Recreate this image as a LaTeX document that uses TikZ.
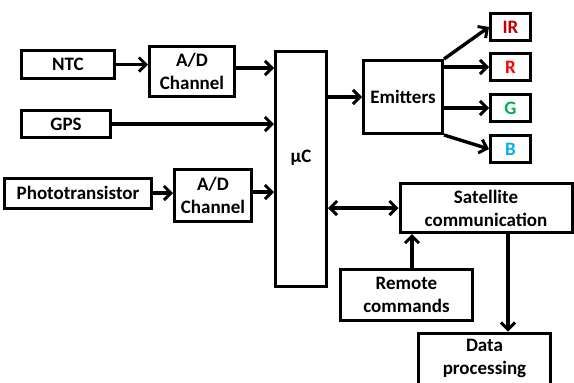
\documentclass[tikz,border=0pt]{standalone}
\usepackage{fontspec}
\setmainfont{Carlito}
\usetikzlibrary{arrows.meta}
\definecolor{irc}{HTML}{C00000}
\definecolor{rc}{HTML}{FF0000}
\definecolor{gc}{HTML}{00B050}
\definecolor{bc}{HTML}{00B0F0}
\begin{document}
\begin{tikzpicture}[x=1pt,y=-1pt,
  blk/.style={draw,line width=3pt,inner sep=0pt,align=center,
    font=\fontsize{19}{23}\selectfont\bfseries},
  tip/.tip={Straight Barb[length=7pt,width=14pt,line width=3pt]},
  conn/.style={line width=3.4pt,-tip},
  biconn/.style={line width=3.4pt,tip-tip}]
\useasboundingbox (0,0) rectangle (574,383);
\clip (0,0) rectangle (574,383);
\node[blk,minimum width=93,minimum height=28] (ntc) at (68,64.5) {NTC};
\node[blk,minimum width=85,minimum height=50] (ad1) at (192,71.5) {A/D\\Channel};
\node[blk,minimum width=89,minimum height=27] (gps) at (66,124) {GPS};
\node[blk,minimum width=147,minimum height=30] (pt) at (78,193) {Phototransistor};
\node[blk,minimum width=77,minimum height=52] (ad2) at (213,195.5) {A/D\\Channel};
\node[blk,minimum width=51,minimum height=235] (uc) at (301,169) {};
\node[font=\fontsize{19}{23}\selectfont\bfseries] (uclbl) at (301,158) {µC};
\node[blk,minimum width=79,minimum height=73] (em) at (403,97) {Emitters};
\node[blk,minimum width=40,minimum height=27,text=irc] (ir) at (510.5,27) {IR};
\node[blk,minimum width=40,minimum height=27,text=rc] (r) at (510.5,67) {R};
\node[blk,minimum width=40,minimum height=27,text=gc] (g) at (510.5,108) {G};
\node[blk,minimum width=40,minimum height=27,text=bc] (b) at (510.5,149) {B};
\node[blk,minimum width=172,minimum height=49] (sat) at (486,208) {Satellite\\communication};
\node[blk,minimum width=132,minimum height=51] (rem) at (406.5,295) {Remote\\commands};
\node[blk,minimum width=132,minimum height=51] (dp) at (484.5,358.5) {Data\\processing};
\draw[conn] (ntc.east) -- (ntc.east -| ad1.west);
\draw[conn] ([yshift=3.5pt]ad1.east) -- ([yshift=3.5pt]ad1.east -| uc.west);
\draw[conn] (gps.east) -- (gps.east -| uc.west);
\draw[conn] (pt.east) -- (pt.east -| ad2.west);
\draw[conn] ([yshift=3.5pt]ad2.east) -- ([yshift=3.5pt]ad2.east -| uc.west);
\draw[conn] (em.west -| uc.east) -- (em.west);
\draw[conn] (em.north east) -- (ir.west);
\draw[conn] (r.west -| em.east) -- (r.west);
\draw[conn] (g.west -| em.east) -- (g.west);
\draw[conn] (em.south east) -- (b.west);
\draw[biconn] (sat.west -| uc.east) -- (sat.west);
\draw[conn] ([xshift=5.5pt]rem.north) -- ([xshift=5.5pt]rem.north |- sat.south);
\draw[conn] ([xshift=22pt]sat.south) -- ([xshift=22pt]sat.south |- dp.north);
\end{tikzpicture}
\end{document}
